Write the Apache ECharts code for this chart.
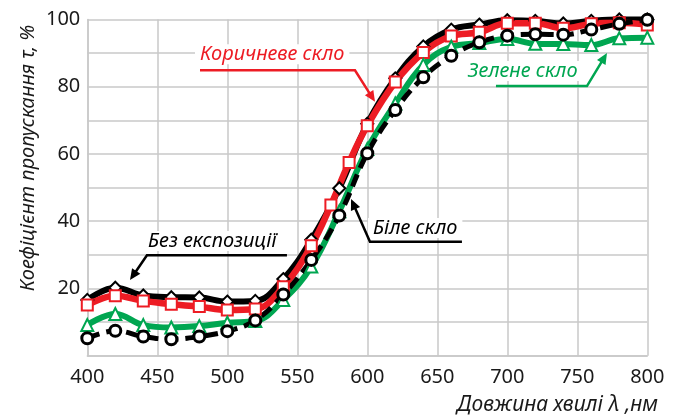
<!DOCTYPE html>
<html>
<head>
<meta charset="utf-8">
<script src="https://cdn.jsdelivr.net/npm/echarts@6/dist/echarts.min.js"></script>
<style>
  html, body { margin: 0; padding: 0; background: #fff; }
  #chart { width: 677px; height: 418px; }
</style>
</head>
<body>
<div id="chart"></div>
<script>
// Wavelengths, nm
const wavelengths = [400, 420, 440, 460, 480, 500, 520, 540, 560, 580, 600, 620, 640, 660, 680, 700, 720, 740, 760, 780, 800];
const wavelengthsBrown = [400, 420, 440, 460, 480, 500, 520, 540, 560, 574, 587, 600, 620, 640, 660, 680, 700, 720, 740, 760, 780, 800];

// Transmittance, %
const noExposure = [16.6, 20.2, 17.9, 17.4, 17.3, 16.1, 16.3, 22.8, 34.5, 49.8, 69.0, 82.5, 92.0, 97.0, 98.5, 99.8, 99.6, 98.8, 99.6, 100, 100];
const brownGlass = [15.1, 17.8, 16.3, 15.3, 14.6, 13.6, 13.9, 20.5, 32.7, 44.8, 57.5, 68.4, 81.4, 90.2, 95.1, 96.2, 98.9, 98.9, 97.4, 98.7, 99.0, 98.4];
const greenGlass = [9.1, 12.4, 9.1, 8.4, 8.8, 9.8, 10.3, 16.6, 26.5, 43.0, 61.5, 75.0, 86.5, 91.9, 93.0, 94.2, 92.8, 92.7, 92.4, 94.4, 94.6];
const whiteGlass = [5.2, 7.4, 5.7, 4.9, 5.7, 7.3, 10.5, 18.2, 28.5, 41.7, 60.2, 73.1, 82.8, 89.2, 93.2, 95.2, 95.6, 95.5, 97.0, 98.7, 99.9];

const seriesNames = ['Без експозиції', 'Коричневе скло', 'Зелене скло', 'Біле скло'];
const xTitle = 'Довжина хвилі λ ,нм';
const yTitle = 'Коефіцієнт пропускання τ, %';

const RED = '#ed1c24';
const GREEN = '#00a651';
const BLACK = '#000000';
const GRID = '#c8c8c8';
const FONT = '"Noto Sans", "Open Sans", sans-serif';

function pairs(xs, ys) { return xs.map((x, i) => [x, ys[i]]); }

const chart = echarts.init(document.getElementById('chart'), null, { renderer: 'canvas' });

chart.setOption({
  animation: false,
  backgroundColor: '#fff',
  grid: { left: 87.3, right: 29.7, top: 19.5, bottom: 62.3 },
  xAxis: {
    type: 'value', min: 400, max: 800, interval: 50,
    axisLine: { show: true, lineStyle: { color: GRID, width: 1.5 } },
    axisTick: { show: false },
    splitLine: { show: true, lineStyle: { color: GRID, width: 1.5 } },
    axisLabel: { color: '#1a1a1a', fontSize: 20, fontFamily: FONT, margin: 12 }
  },
  yAxis: {
    type: 'value', min: 0, max: 100, interval: 10,
    axisLine: { show: true, lineStyle: { color: GRID, width: 1.5 } },
    axisTick: { show: false },
    splitLine: { show: true, lineStyle: { color: GRID, width: 1.5 } },
    axisLabel: {
      color: '#1a1a1a', fontSize: 20, fontFamily: FONT, margin: 7,
      formatter: v => (v > 0 && v % 20 === 0) ? String(v) : ''
    }
  },
  series: [
    {
      name: seriesNames[0], type: 'line', smooth: 0.4, clip: false,
      data: pairs(wavelengths, noExposure),
      lineStyle: { color: BLACK, width: 6 },
      symbol: 'diamond', symbolSize: 12,
      itemStyle: { color: '#fff', borderColor: BLACK, borderWidth: 2 }
    },
    {
      name: seriesNames[1], type: 'line', smooth: 0.4, clip: false,
      data: pairs(wavelengthsBrown, brownGlass),
      lineStyle: { color: RED, width: 6.5 },
      symbol: 'rect', symbolSize: 11,
      itemStyle: { color: '#fff', borderColor: RED, borderWidth: 2 }
    },
    {
      name: seriesNames[2], type: 'line', smooth: 0.4, clip: false,
      data: pairs(wavelengths, greenGlass),
      lineStyle: { color: GREEN, width: 6 },
      symbol: 'triangle', symbolSize: 12,
      itemStyle: { color: '#fff', borderColor: GREEN, borderWidth: 2 }
    },
    {
      name: seriesNames[3], type: 'line', smooth: 0.4, clip: false,
      data: pairs(wavelengths, whiteGlass),
      lineStyle: { color: BLACK, width: 5, type: [13, 7] },
      symbol: 'circle', symbolSize: 11,
      itemStyle: { color: '#fff', borderColor: BLACK, borderWidth: 3 }
    }
  ]
});

// Callout labels with underline + leader arrow, placed in data coordinates
const callouts = [
  { text: seriesNames[1], color: RED, at: [480.5, 89.7],
    path: [[480.5, 84.9], [591.2, 84.9], [605.5, 75.5]] },
  { text: seriesNames[2], color: GREEN, at: [671.9, 84.7],
    path: [[691.9, 80.2], [756.9, 80.2], [771.2, 90.0]] },
  { text: seriesNames[0], color: BLACK, at: [443.4, 34.1],
    path: [[542.6, 29.9], [442.6, 29.9], [430.5, 22.5]] },
  { text: seriesNames[3], color: BLACK, at: [604.1, 38.0],
    path: [[667.6, 33.9], [601.9, 33.9], [588.4, 46.6]] }
];

function toPx(p) { return chart.convertToPixel({ gridIndex: 0 }, p); }

function arrowHead(a, b, len, half) {
  const dx = b[0] - a[0], dy = b[1] - a[1];
  const d = Math.hypot(dx, dy) || 1;
  const ux = dx / d, uy = dy / d;
  const bx = b[0] - ux * len, by = b[1] - uy * len;
  return [[b[0], b[1]], [bx - uy * half, by + ux * half], [bx + uy * half, by - ux * half]];
}

const PAD = 5;
const graphics = [];
callouts.forEach(c => {
  const pts = c.path.map(toPx);
  const tip = pts[pts.length - 1];
  const prev = pts[pts.length - 2];
  const d = Math.hypot(tip[0] - prev[0], tip[1] - prev[1]) || 1;
  const stem = [tip[0] - (tip[0] - prev[0]) / d * 8, tip[1] - (tip[1] - prev[1]) / d * 8];
  const tp = toPx(c.at);
  graphics.push({
    type: 'text', x: tp[0] - PAD, y: tp[1], z: 100,
    style: {
      text: c.text, fill: c.color, font: 'italic 20px ' + FONT,
      verticalAlign: 'middle', align: 'left',
      backgroundColor: '#fff', padding: [0, PAD]
    }
  });
  graphics.push({
    type: 'polyline', z: 100,
    shape: { points: pts.slice(0, -1).concat([stem]) },
    style: { stroke: c.color, lineWidth: 2.5, fill: null }
  });
  graphics.push({
    type: 'polygon', z: 100,
    shape: { points: arrowHead(prev, tip, 11, 5) },
    style: { fill: c.color }
  });
});

// Axis titles
graphics.push({
  type: 'text', x: 658, y: 405, z: 100,
  style: { text: xTitle, fill: '#1a1a1a', font: 'italic 21px ' + FONT, align: 'right', verticalAlign: 'middle' }
});
graphics.push({
  type: 'text', x: 28, y: 158, rotation: Math.PI / 2, z: 100,
  style: { text: yTitle, fill: '#1a1a1a', font: 'italic 20px ' + FONT, align: 'center', verticalAlign: 'middle' }
});

chart.setOption({ graphic: graphics });
</script>
</body>
</html>
